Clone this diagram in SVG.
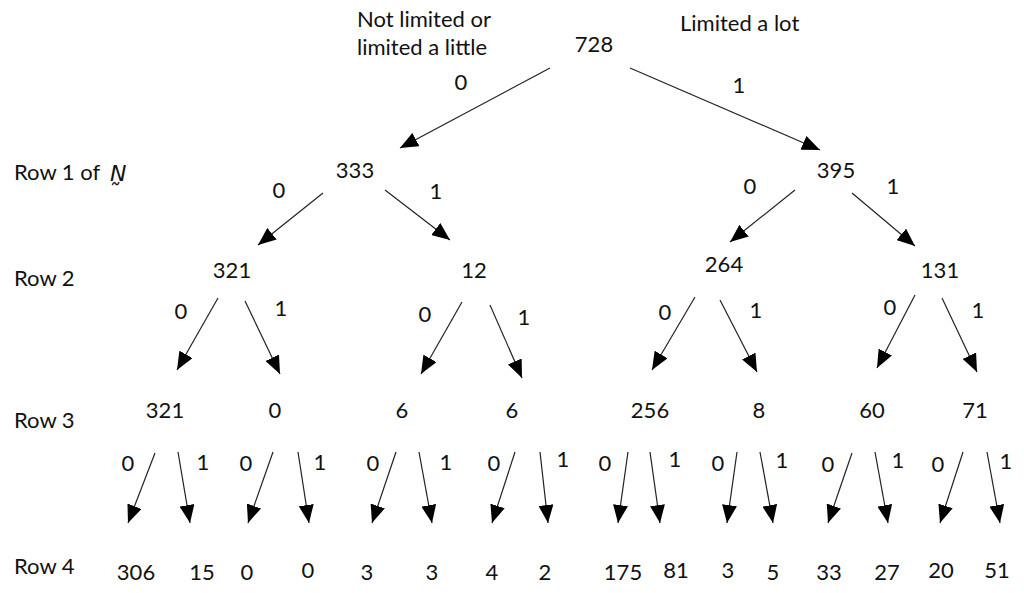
<svg xmlns="http://www.w3.org/2000/svg" width="1024" height="593" viewBox="0 0 1024 593">
<defs>
<marker id="ah" markerUnits="userSpaceOnUse" markerWidth="18" markerHeight="15" refX="18" refY="7.5" orient="auto">
<path d="M0,0 L18,7.5 L0,15 z" fill="#000"/>
</marker>
<style>
text{font-family:Lato,"Open Sans","Liberation Sans",sans-serif;font-size:22px;fill:#111}
.c{text-anchor:middle}
.e line{stroke:#222;stroke-width:1.2;marker-end:url(#ah)}
</style>
</defs>
<rect width="1024" height="593" fill="#fff"/>
<g id="labels">
<text x="357" y="27">Not limited or</text>
<text x="357" y="55">limited a little</text>
<text x="680" y="31">Limited a lot</text>
<text x="14" y="180">Row 1 of</text>
<text x="110" y="181" style="font-family:'DejaVu Sans',sans-serif;font-style:italic;font-size:22px">N&#x330;</text>
<text x="14" y="286">Row 2</text>
<text x="14" y="428">Row 3</text>
<text x="14" y="574">Row 4</text>
</g>
<g id="connectors" class="e">
<line x1="550" y1="68" x2="400" y2="148"/>
<line x1="630" y1="68" x2="820" y2="150"/>
<line x1="323" y1="193" x2="258" y2="245"/>
<line x1="385" y1="190" x2="450" y2="240"/>
<line x1="795" y1="190" x2="730" y2="242"/>
<line x1="852" y1="193" x2="915" y2="246"/>
<line x1="218" y1="298" x2="177" y2="370"/>
<line x1="245" y1="301" x2="280" y2="374"/>
<line x1="462" y1="302" x2="421" y2="374"/>
<line x1="490" y1="305" x2="522" y2="378"/>
<line x1="695" y1="297" x2="652" y2="370"/>
<line x1="720" y1="300" x2="757" y2="372"/>
<line x1="915" y1="295" x2="877" y2="368"/>
<line x1="942" y1="298" x2="977" y2="372"/>
<line x1="155" y1="453" x2="128" y2="523"/>
<line x1="178" y1="452" x2="190" y2="523"/>
<line x1="273" y1="452" x2="248" y2="523"/>
<line x1="298" y1="452" x2="309" y2="523"/>
<line x1="396" y1="452" x2="372" y2="523"/>
<line x1="419" y1="452" x2="432" y2="523"/>
<line x1="515" y1="452" x2="492" y2="523"/>
<line x1="540" y1="452" x2="548" y2="523"/>
<line x1="628" y1="452" x2="618" y2="523"/>
<line x1="650" y1="452" x2="660" y2="523"/>
<line x1="737" y1="452" x2="727" y2="523"/>
<line x1="760" y1="452" x2="773" y2="523"/>
<line x1="852" y1="453" x2="828" y2="523"/>
<line x1="875" y1="452" x2="888" y2="523"/>
<line x1="963" y1="452" x2="940" y2="523"/>
<line x1="987" y1="452" x2="1000" y2="523"/>
</g>
<g id="edge-labels" class="c">
<text x="461" y="90">0</text><text x="739" y="93">1</text>
<text x="279" y="198">0</text><text x="436" y="199">1</text>
<text x="750" y="194">0</text><text x="893" y="194">1</text>
<text x="181" y="319">0</text><text x="281" y="316">1</text>
<text x="425" y="322">0</text><text x="524" y="325">1</text>
<text x="665" y="320">0</text><text x="756" y="318">1</text>
<text x="890" y="315">0</text><text x="978" y="318">1</text>
<text x="128" y="471">0</text><text x="203" y="470">1</text>
<text x="246" y="471">0</text><text x="320" y="470">1</text>
<text x="373" y="471">0</text><text x="446" y="470">1</text>
<text x="494" y="471">0</text><text x="563" y="467">1</text>
<text x="605" y="471">0</text><text x="675" y="467">1</text>
<text x="718" y="471">0</text><text x="782" y="468">1</text>
<text x="828" y="472">0</text><text x="898" y="468">1</text>
<text x="938" y="472">0</text><text x="1006" y="469">1</text>
</g>
<g id="n728" class="c"><text x="594" y="52">728</text></g>
<g id="n333" class="c"><text x="355" y="178">333</text></g>
<g id="n395" class="c"><text x="836" y="178">395</text></g>
<g id="n321a" class="c"><text x="232" y="278">321</text></g>
<g id="n12" class="c"><text x="474" y="278">12</text></g>
<g id="n264" class="c"><text x="724" y="272">264</text></g>
<g id="n131" class="c"><text x="940" y="278">131</text></g>
<g id="r3" class="c">
<g id="n3a"><text x="165" y="418">321</text></g>
<g id="n3b"><text x="275" y="418">0</text></g>
<g id="n3c"><text x="402" y="418">6</text></g>
<g id="n3d"><text x="512" y="418">6</text></g>
<g id="n3e"><text x="650" y="418">256</text></g>
<g id="n3f"><text x="759" y="418">8</text></g>
<g id="n3g"><text x="872" y="418">60</text></g>
<g id="n3h"><text x="975" y="418">71</text></g>
</g>
<g id="r4" class="c">
<g id="n4a"><text x="136" y="580">306</text></g>
<g id="n4b"><text x="202" y="580">15</text></g>
<g id="n4c"><text x="247" y="580">0</text></g>
<g id="n4d"><text x="308" y="578">0</text></g>
<g id="n4e"><text x="367" y="580">3</text></g>
<g id="n4f"><text x="432" y="580">3</text></g>
<g id="n4g"><text x="492" y="580">4</text></g>
<g id="n4h"><text x="545" y="580">2</text></g>
<g id="n4i"><text x="623" y="580">175</text></g>
<g id="n4j"><text x="676" y="578">81</text></g>
<g id="n4k"><text x="728" y="578">3</text></g>
<g id="n4l"><text x="773" y="580">5</text></g>
<g id="n4m"><text x="829" y="580">33</text></g>
<g id="n4n"><text x="887" y="580">27</text></g>
<g id="n4o"><text x="941" y="578">20</text></g>
<g id="n4p"><text x="997" y="578">51</text></g>
</g>
</svg>
